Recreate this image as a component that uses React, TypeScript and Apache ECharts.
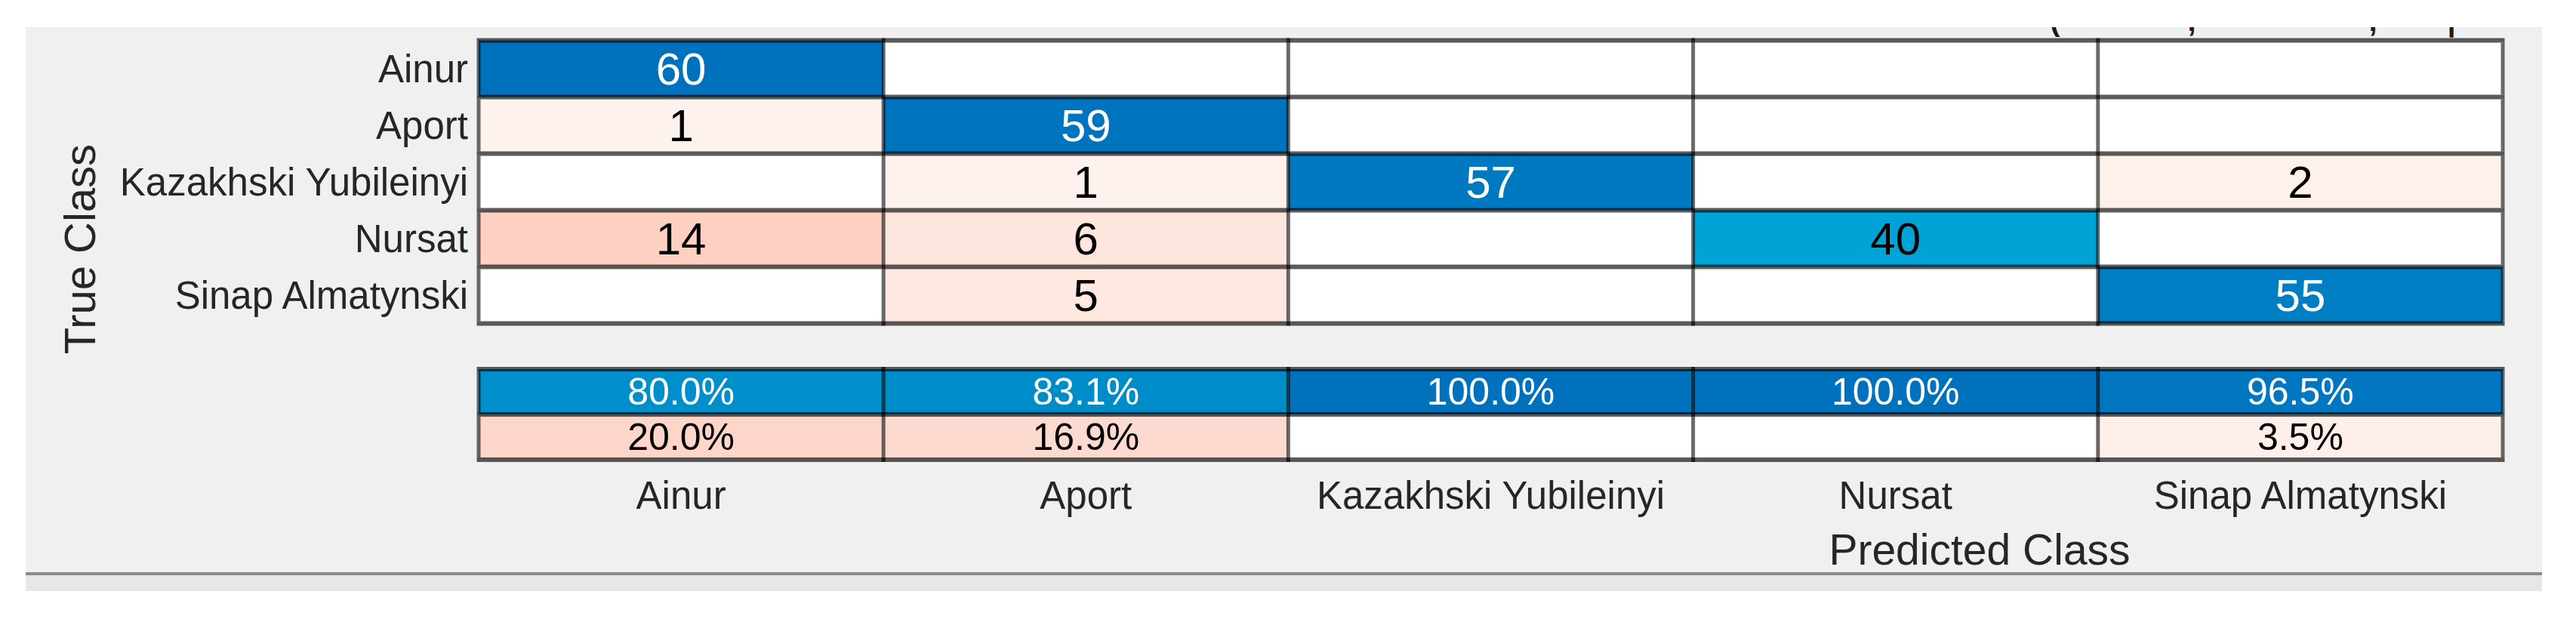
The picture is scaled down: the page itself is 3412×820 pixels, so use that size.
import React, { useEffect, useRef } from "react";
import * as echarts from "echarts";

// ---- data ----
const classes = ["Ainur", "Aport", "Kazakhski Yubileinyi", "Nursat", "Sinap Almatynski"];
// rows = true class, columns = predicted class
const countAinur = [60, 0, 0, 0, 0];
const countAport = [1, 59, 0, 0, 0];
const countKazakhski = [0, 1, 57, 0, 2];
const countNursat = [14, 6, 0, 40, 0];
const countSinap = [0, 5, 0, 0, 55];
const countRows = [countAinur, countAport, countKazakhski, countNursat, countSinap];
// column summary (predicted class)
const correctPct = [80.0, 83.1, 100.0, 100.0, 96.5];
const wrongPct = [20.0, 16.9, 0.0, 0.0, 3.5];
const summaryRows = ["correct", "incorrect"];
// glyphs of a title clipped off at the top of the figure
const clippedTitleGlyphs = ["(", ",", ",", "|"];

const FONT = "'Liberation Sans', Arial, Helvetica, sans-serif";
const LINE = "rgba(0,0,0,0.64)";
const LINE_V = "rgba(0,0,0,0.58)";
const H_W = 6;
const V_W = 5;

function makeRenderer(kind: "count" | "pct", fontSize: number) {
  return function (params: any, api: any) {
    const xi = api.value(0);
    const yi = api.value(1);
    const v = api.value(2);
    const c = api.coord([xi, yi]);
    const s = api.size([1, 1]);
    const w = s[0];
    const h = s[1];
    let fill = "#ffffff";
    let txtColor = "#000000";
    if (v > 0) {
      fill = api.visual("color");
      const p = echarts.color.parse(fill) || [255, 255, 255, 1];
      const lum = 0.299 * p[0] + 0.587 * p[1] + 0.114 * p[2];
      txtColor = lum < 115 ? "#ffffff" : "#000000";
    }
    const children: any[] = [
      { type: "rect", shape: { x: c[0] - w / 2, y: c[1] - h / 2, width: w, height: h }, style: { fill } },
    ];
    if (v > 0) {
      children.push({
        type: "text",
        x: c[0],
        y: c[1],
        style: {
          text: kind === "count" ? String(v) : v.toFixed(1) + "%",
          fill: txtColor,
          font: `${fontSize}px ${FONT}`,
          align: "center",
          verticalAlign: "middle",
          textAlign: "center",
          textVerticalAlign: "middle",
        },
      });
    }
    return { type: "group", children };
  };
}

function makeLineRenderer(nRows: number, nCols: number) {
  return function (params: any, api: any) {
    const xi = api.value(0);
    const yi = api.value(1);
    const c = api.coord([xi, yi]);
    const s = api.size([1, 1]);
    const w = s[0];
    const h = s[1];
    const x0 = c[0] - w / 2;
    const y0 = c[1] - h / 2;
    const hh = H_W / 2;
    const vh = V_W / 2;
    const children: any[] = [
      { type: "rect", shape: { x: x0 - vh, y: y0 - hh, width: w + V_W, height: H_W }, style: { fill: LINE } },
      { type: "rect", shape: { x: x0 - vh, y: y0 + hh, width: V_W, height: h - H_W }, style: { fill: LINE_V } },
    ];
    if (yi === nRows - 1) {
      children.push({ type: "rect", shape: { x: x0 - vh, y: y0 + h - hh, width: w + V_W, height: H_W }, style: { fill: LINE } });
    }
    if (xi === nCols - 1) {
      children.push({ type: "rect", shape: { x: x0 + w - vh, y: y0 + hh, width: V_W, height: h - H_W }, style: { fill: LINE_V } });
    }
    return { type: "group", children };
  };
}

export default function App() {
  const ref = useRef<HTMLDivElement>(null);
  useEffect(() => {
    if (!ref.current) return;
    const chart = echarts.init(ref.current, undefined, { renderer: "svg" });

    const offDiag: number[][] = [];
    const diag: number[][] = [];
    const cells0: number[][] = [];
    countRows.forEach((row, yi) => {
      row.forEach((v, xi) => {
        cells0.push([xi, yi]);
        if (xi === yi) diag.push([xi, yi, v]);
        else offDiag.push([xi, yi, v]);
      });
    });
    const corr = correctPct.map((v, xi) => [xi, 0, v]);
    const wrong = wrongPct.map((v, xi) => [xi, 1, v]);
    const cells1: number[][] = [];
    summaryRows.forEach((_r, yi) => classes.forEach((_c, xi) => cells1.push([xi, yi])));

    const blue = ["#00A3D5", "#0072BD"];
    const pink = ["#FEF5F1", "#FDD0C2"];

    const axisOff = {
      axisLine: { show: false },
      axisTick: { show: false },
      splitLine: { show: false },
    };

    const glyphX = [2722, 2903, 3143, 3247];
    const clipped = clippedTitleGlyphs.map((g, i) => ({
      type: "text",
      x: glyphX[i],
      y: 27,
      z: -6,
      style: {
        text: g,
        fill: "#1a1a1a",
        font: `bold 40px ${FONT}`,
        align: "center",
        verticalAlign: "middle",
        textAlign: "center",
        textVerticalAlign: "middle",
      },
    }));

    const option: any = {
      animation: false,
      backgroundColor: "#ffffff",
      textStyle: { fontFamily: FONT },
      graphic: [
        { type: "rect", shape: { x: 34, y: 36, width: 3333, height: 724 }, style: { fill: "#f0f0f0" }, z: -10 },
        { type: "rect", shape: { x: 34, y: 758, width: 3333, height: 4 }, style: { fill: "#8a8a8a" }, z: -10 },
        { type: "rect", shape: { x: 34, y: 762, width: 3333, height: 21 }, style: { fill: "#e6e6e6" }, z: -10 },
        ...clipped,
        { type: "rect", shape: { x: 2600, y: 0, width: 800, height: 36 }, style: { fill: "#ffffff" }, z: -5 },
        {
          type: "text",
          x: 105,
          y: 330,
          rotation: Math.PI / 2,
          style: {
            text: "True Class",
            fill: "#262626",
            font: `58px ${FONT}`,
            align: "center",
            verticalAlign: "middle",
            textAlign: "center",
            textVerticalAlign: "middle",
          },
        },
        {
          type: "text",
          x: 2622,
          y: 728,
          style: {
            text: "Predicted Class",
            fill: "#262626",
            font: `57px ${FONT}`,
            align: "center",
            verticalAlign: "middle",
            textAlign: "center",
            textVerticalAlign: "middle",
          },
        },
      ],
      grid: [
        { left: 634, top: 53.5, width: 2681, height: 375, outerBoundsMode: "none" },
        { left: 634, top: 489, width: 2681, height: 120, outerBoundsMode: "none" },
      ],
      xAxis: [
        { type: "category", gridIndex: 0, data: classes, ...axisOff, axisLabel: { show: false } },
        {
          type: "category",
          gridIndex: 1,
          data: classes,
          ...axisOff,
          axisLabel: { show: true, fontSize: 51, color: "#262626", margin: 22, fontFamily: FONT, interval: 0 },
        },
      ],
      yAxis: [
        {
          type: "category",
          gridIndex: 0,
          data: classes,
          inverse: true,
          ...axisOff,
          axisLabel: { show: true, fontSize: 51, color: "#262626", margin: 14, fontFamily: FONT, interval: 0 },
        },
        { type: "category", gridIndex: 1, data: summaryRows, inverse: true, ...axisOff, axisLabel: { show: false } },
      ],
      visualMap: [
        { type: "continuous", show: false, seriesIndex: 0, dimension: 2, min: 0, max: 14, inRange: { color: pink } },
        { type: "continuous", show: false, seriesIndex: 1, dimension: 2, min: 40, max: 60, inRange: { color: blue } },
        { type: "continuous", show: false, seriesIndex: 2, dimension: 2, min: 66.67, max: 100, inRange: { color: blue } },
        { type: "continuous", show: false, seriesIndex: 3, dimension: 2, min: 0, max: 23.33, inRange: { color: pink } },
      ],
      series: [
        {
          type: "custom",
          name: "misclassified",
          xAxisIndex: 0,
          yAxisIndex: 0,
          encode: { x: 0, y: 1 },
          data: offDiag,
          z: 2,
          renderItem: makeRenderer("count", 60),
        },
        {
          type: "custom",
          name: "correct",
          xAxisIndex: 0,
          yAxisIndex: 0,
          encode: { x: 0, y: 1 },
          data: diag,
          z: 2,
          renderItem: makeRenderer("count", 60),
        },
        {
          type: "custom",
          name: "precision",
          xAxisIndex: 1,
          yAxisIndex: 1,
          encode: { x: 0, y: 1 },
          data: corr,
          z: 2,
          renderItem: makeRenderer("pct", 50),
        },
        {
          type: "custom",
          name: "false discovery",
          xAxisIndex: 1,
          yAxisIndex: 1,
          encode: { x: 0, y: 1 },
          data: wrong,
          z: 2,
          renderItem: makeRenderer("pct", 50),
        },
        {
          type: "custom",
          name: "matrix lines",
          xAxisIndex: 0,
          yAxisIndex: 0,
          encode: { x: 0, y: 1 },
          data: cells0,
          z: 6,
          silent: true,
          renderItem: makeLineRenderer(classes.length, classes.length),
        },
        {
          type: "custom",
          name: "summary lines",
          xAxisIndex: 1,
          yAxisIndex: 1,
          encode: { x: 0, y: 1 },
          data: cells1,
          z: 6,
          silent: true,
          renderItem: makeLineRenderer(summaryRows.length, classes.length),
        },
      ],
    };
    chart.setOption(option);
    return () => chart.dispose();
  }, []);
  return (
    <div
      ref={ref}
      style={{ position: "absolute", left: 0, top: 0, width: 3412, height: 820, background: "#ffffff" }}
    />
  );
}
